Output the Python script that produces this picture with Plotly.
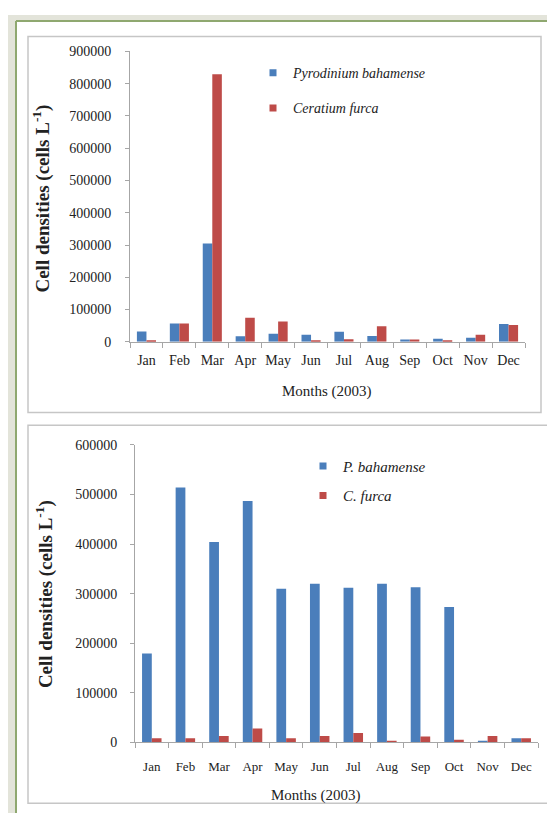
import plotly.graph_objects as go

months = ["Jan", "Feb", "Mar", "Apr", "May", "Jun", "Jul", "Aug", "Sep", "Oct", "Nov", "Dec"]

# Top chart: 2003 cell densities (cells L-1)
top_pyrodinium = [32000, 57000, 305000, 17000, 25000, 22000, 31000, 18000, 7000, 10000, 13000, 55000]
top_ceratium = [5000, 57000, 829000, 75000, 63000, 5000, 8000, 48000, 7000, 5000, 22000, 52000]

# Bottom chart
bot_pyrodinium = [179000, 514000, 404000, 487000, 310000, 320000, 312000, 320000, 313000, 273000, 3000, 8000]
bot_ceratium = [8000, 8000, 13000, 28000, 8000, 13000, 19000, 3000, 12000, 5000, 13000, 8000]

top_ticks = [0, 100000, 200000, 300000, 400000, 500000, 600000, 700000, 800000, 900000]
bot_ticks = [0, 100000, 200000, 300000, 400000, 500000, 600000]

BLUE = "#4a7ebb"
RED = "#be4b48"
FONT = "Liberation Serif, Times New Roman, serif"
W, H = 555, 813


def px(x):
    return x / W


def py(y):
    return 1 - y / H


fig = go.Figure()

# bars
fig.add_trace(go.Bar(x=months, y=top_pyrodinium, marker_color=BLUE, showlegend=False,
                     xaxis="x", yaxis="y", marker_line_width=0))
fig.add_trace(go.Bar(x=months, y=top_ceratium, marker_color=RED, showlegend=False,
                     xaxis="x", yaxis="y", marker_line_width=0))
fig.add_trace(go.Bar(x=months, y=bot_pyrodinium, marker_color=BLUE, showlegend=False,
                     xaxis="x2", yaxis="y2", marker_line_width=0))
fig.add_trace(go.Bar(x=months, y=bot_ceratium, marker_color=RED, showlegend=False,
                     xaxis="x2", yaxis="y2", marker_line_width=0))

# legend proxies (small squares like the original)
legend_items = [
    ("Pyrodinium bahamense", BLUE, "legend", "a"),
    ("Ceratium furca", RED, "legend", "b"),
    ("P. bahamense", BLUE, "legend2", "c"),
    ("C. furca", RED, "legend2", "d"),
]
for name, col, leg, grp in legend_items:
    fig.add_trace(go.Scatter(x=[None], y=[None], mode="markers", name=name,
                             marker=dict(symbol="square", size=7, color=col),
                             legend=leg, legendgroup=grp,
                             xaxis="x" if leg == "legend" else "x2",
                             yaxis="y" if leg == "legend" else "y2"))

axis_line = "#a6a6a6"
xcommon = dict(type="category", showgrid=False, showline=True, linecolor=axis_line, linewidth=1,
               ticks="outside", tickson="boundaries", ticklen=5, tickcolor=axis_line,
               tickangle=0, zeroline=False, fixedrange=True)
ycommon = dict(showgrid=False, showline=True, linecolor=axis_line, linewidth=1,
               ticks="outside", ticklen=4, tickcolor=axis_line, tickformat="d",
               tickfont=dict(family=FONT, size=14, color="#222"), zeroline=False,
               fixedrange=True)

fig.update_layout(
    width=W, height=H,
    margin=dict(l=0, r=0, t=0, b=0),
    paper_bgcolor="white", plot_bgcolor="white",
    font=dict(family=FONT, color="#222"),
    barmode="group", bargap=0.42, bargroupgap=0,
    xaxis=dict(domain=[px(122), px(517)], anchor="y", ticklabelstandoff=5,
               tickfont=dict(family=FONT, size=14, color="#222"), **xcommon),
    yaxis=dict(domain=[py(333), py(37)], anchor="x", range=[0, 900000],
               tickvals=top_ticks, ticklabelstandoff=11, **ycommon),
    xaxis2=dict(domain=[px(127), px(530)], anchor="y2", ticklabelstandoff=12,
                tickfont=dict(family=FONT, size=13, color="#222"), **xcommon),
    yaxis2=dict(domain=[py(741), py(438)], anchor="x2", range=[0, 600000],
                tickvals=bot_ticks, ticklabelstandoff=10, **ycommon),
    legend=dict(x=px(245), y=py(43), xanchor="left", yanchor="top", bgcolor="rgba(0,0,0,0)",
                font=dict(family=FONT, size=14, color="#222", style="italic"),
                traceorder="grouped", tracegroupgap=14, itemwidth=30),
    legend2=dict(x=px(295), y=py(443), xanchor="left", yanchor="top", bgcolor="rgba(0,0,0,0)",
                 font=dict(family=FONT, size=15, color="#222", style="italic"),
                 traceorder="grouped", tracegroupgap=7, itemwidth=30),
    showlegend=True,
)

# axis titles
ytitle = "Cell densities (cells L<sup>-1</sup>)"
fig.add_annotation(text=ytitle, x=px(34), y=py(187), xref="paper", yref="paper",
                   textangle=-90, showarrow=False, xanchor="center", yanchor="middle",
                   font=dict(family=FONT, size=19, color="#222", weight="bold"))
fig.add_annotation(text=ytitle, x=px(36), y=py(590), xref="paper", yref="paper",
                   textangle=-90, showarrow=False, xanchor="center", yanchor="middle",
                   font=dict(family=FONT, size=19, color="#222", weight="bold"))
fig.add_annotation(text="Months (2003)", x=px(319), y=py(384), xref="paper", yref="paper",
                   showarrow=False, xanchor="center", yanchor="middle",
                   font=dict(family=FONT, size=15, color="#222"))
fig.add_annotation(text="Months (2003)", x=px(308), y=py(795), xref="paper", yref="paper",
                   showarrow=False, xanchor="center", yanchor="middle",
                   font=dict(family=FONT, size=15, color="#222"))

# page frame and panel borders
shapes = [
    dict(type="rect", x0=0, x1=px(8), y0=0, y1=1, fillcolor="#e3e4da", line_width=0, layer="below"),
    dict(type="rect", x0=0, x1=1, y0=py(6), y1=1, fillcolor="#e3e4da", line_width=0, layer="below"),
    dict(type="line", x0=px(8), x1=px(8), y0=0, y1=py(6), line=dict(color="#8fa870", width=2)),
    dict(type="line", x0=px(8), x1=1, y0=py(6), y1=py(6), line=dict(color="#8fa870", width=2)),
    dict(type="rect", x0=px(20), x1=px(533), y0=py(405), y1=py(22),
         line=dict(color="#c6c6c6", width=1.5), layer="below"),
    dict(type="rect", x0=px(20), x1=px(546), y0=py(803), y1=py(418),
         line=dict(color="#c6c6c6", width=1.5), layer="below"),
]
for s in shapes:
    s.update(xref="paper", yref="paper")
    fig.add_shape(**s)

fig.write_html("out.html")
